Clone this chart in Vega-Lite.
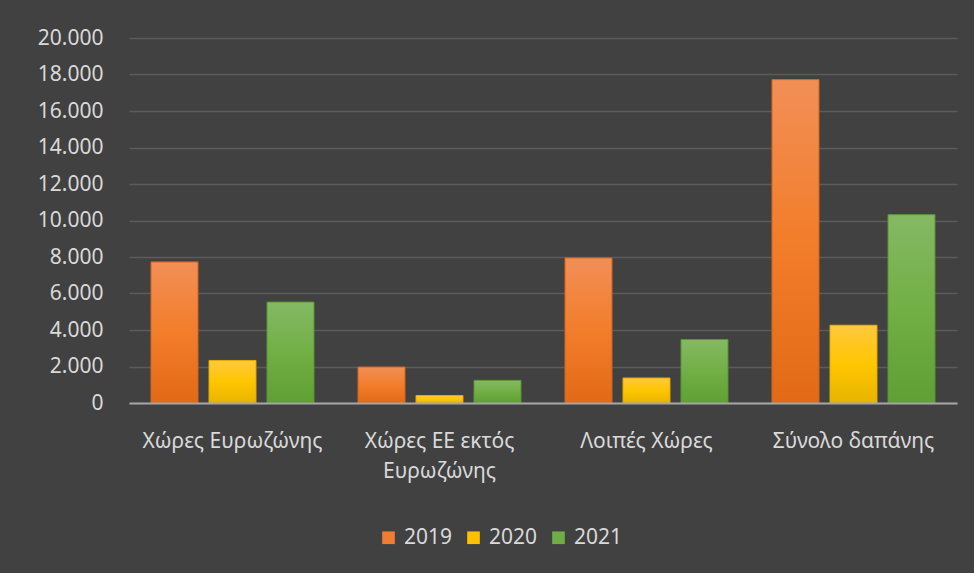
{
  "$schema": "https://vega.github.io/schema/vega-lite/v6.json",
  "width": 828,
  "height": 365,
  "autosize": {"type": "none"},
  "padding": {"left": 129, "top": 38, "right": 17, "bottom": 170},
  "background": "#414141",
  "config": {
    "view": {"stroke": null},
    "font": "Noto Sans"
  },
  "data": {
    "values": [
      {"category": "Χώρες Ευρωζώνης", "year": "2019", "value": 7730},
      {"category": "Χώρες Ευρωζώνης", "year": "2020", "value": 2330},
      {"category": "Χώρες Ευρωζώνης", "year": "2021", "value": 5530},
      {"category": "Χώρες ΕΕ εκτός Ευρωζώνης", "year": "2019", "value": 1970},
      {"category": "Χώρες ΕΕ εκτός Ευρωζώνης", "year": "2020", "value": 410},
      {"category": "Χώρες ΕΕ εκτός Ευρωζώνης", "year": "2021", "value": 1240},
      {"category": "Λοιπές Χώρες", "year": "2019", "value": 7950},
      {"category": "Λοιπές Χώρες", "year": "2020", "value": 1370},
      {"category": "Λοιπές Χώρες", "year": "2021", "value": 3480},
      {"category": "Σύνολο δαπάνης", "year": "2019", "value": 17720},
      {"category": "Σύνολο δαπάνης", "year": "2020", "value": 4260},
      {"category": "Σύνολο δαπάνης", "year": "2021", "value": 10320}
    ]
  },
  "encoding": {
    "x": {
      "field": "category",
      "type": "nominal",
      "sort": ["Χώρες Ευρωζώνης", "Χώρες ΕΕ εκτός Ευρωζώνης", "Λοιπές Χώρες", "Σύνολο δαπάνης"],
      "scale": {"paddingInner": 0.2126, "paddingOuter": 0.1063},
      "axis": {
        "title": null,
        "labelAngle": 0,
        "labelFontSize": 21,
        "labelColor": "#D9D9D9",
        "labelPadding": 27,
        "labelLineHeight": 30,
        "labelExpr": "datum.label == 'Χώρες ΕΕ εκτός Ευρωζώνης' ? ['Χώρες ΕΕ εκτός', 'Ευρωζώνης'] : datum.label",
        "ticks": false,
        "domain": true,
        "domainColor": "#A6A6A6",
        "domainWidth": 2,
        "grid": false,
        "zindex": 1
      }
    },
    "xOffset": {
      "field": "year",
      "type": "nominal",
      "sort": ["2019", "2020", "2021"],
      "scale": {"paddingInner": 0.19}
    },
    "y": {
      "field": "value",
      "type": "quantitative",
      "scale": {"domain": [0, 20000]},
      "axis": {
        "title": null,
        "values": [0, 2000, 4000, 6000, 8000, 10000, 12000, 14000, 16000, 18000, 20000],
        "labelExpr": "replace(format(datum.value, ','), ',', '.')",
        "labelFontSize": 21,
        "labelColor": "#D9D9D9",
        "labelPadding": 26,
        "ticks": false,
        "domain": false,
        "grid": true,
        "gridColor": "#5C5C5C",
        "gridWidth": 1.3
      }
    }
  },
  "layer": [
    {
      "mark": {"type": "bar"},
      "encoding": {
        "color": {
          "field": "year",
          "type": "nominal",
          "scale": {"domain": ["2019", "2020", "2021"], "range": ["#EF7D32", "#FFC000", "#70AD47"]},
          "legend": {
            "title": null,
            "orient": "none",
            "legendX": 249,
            "legendY": 489,
            "direction": "horizontal",
            "symbolType": "square",
            "symbolSize": 160,
            "symbolStrokeWidth": 0,
            "labelFontSize": 21,
            "labelColor": "#D9D9D9",
            "labelOffset": 5,
            "columnPadding": 10
          }
        }
      }
    },
    {
      "mark": {"type": "bar", "strokeWidth": 1},
      "encoding": {
        "fill": {
          "condition": [
            {"test": "datum.year == '2019'", "value": {"gradient": "linear", "x1": 0, "y1": 0, "x2": 0, "y2": 1, "stops": [{"offset": 0, "color": "#F28F57"}, {"offset": 0.5, "color": "#F27D2A"}, {"offset": 1, "color": "#E26A17"}]}},
            {"test": "datum.year == '2020'", "value": {"gradient": "linear", "x1": 0, "y1": 0, "x2": 0, "y2": 1, "stops": [{"offset": 0, "color": "#FFC83D"}, {"offset": 0.5, "color": "#FFC600"}, {"offset": 1, "color": "#E8B400"}]}}
          ],
          "value": {"gradient": "linear", "x1": 0, "y1": 0, "x2": 0, "y2": 1, "stops": [{"offset": 0, "color": "#84B964"}, {"offset": 0.5, "color": "#72AF45"}, {"offset": 1, "color": "#5F9F33"}]}
        },
        "stroke": {
          "condition": [
            {"test": "datum.year == '2019'", "value": "#D8641A"},
            {"test": "datum.year == '2020'", "value": "#E0AC00"}
          ],
          "value": "#5A9632"
        }
      }
    }
  ]
}
